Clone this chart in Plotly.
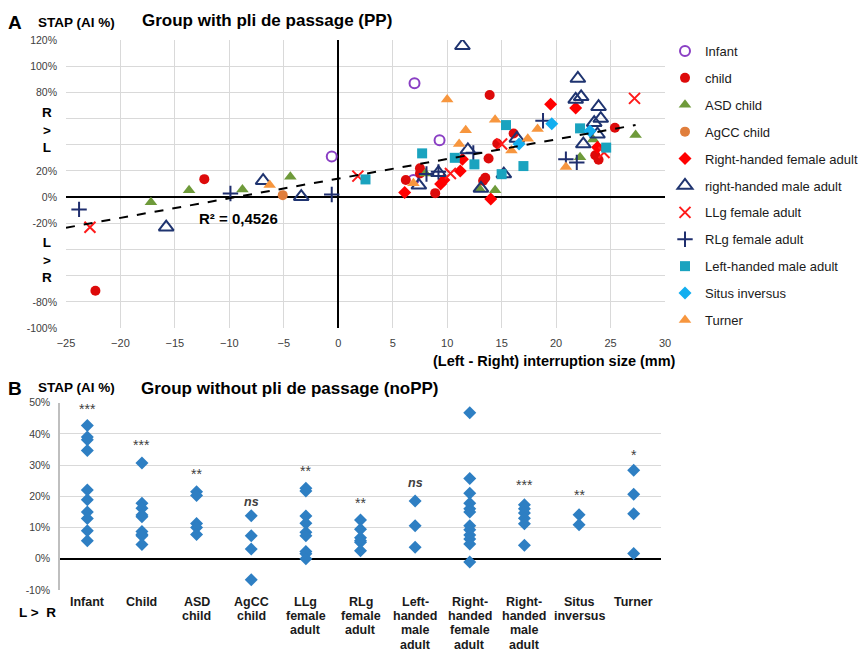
import plotly.graph_objects as go

FONT = "Arial, Liberation Sans, sans-serif"

# ---------------- Panel A data (x: interruption size mm, y: STAP AI %) ----------------
infant_x = [-0.6, 7.0, 9.3, 6.9]
infant_y = [31, 87, 43.5, 13]

child_x = [-22.3, -12.3, 6.2, 7.5, 7.5, 8.9, 13.3, 13.5, 13.8, 13.9, 14.6, 16.1, 23.6, 23.9, 25.4]
child_y = [-71.6, 13.7, 13, 22, 18, 3, 12.5, 14.8, 29.5, 78, 41, 48.6, 32, 28.5, 53]

asd_x = [-17.2, -13.7, -8.8, -4.4, 8.0, 13.0, 14.4, 22.2, 23.4, 27.3]
asd_y = [-4, 5.3, 5.8, 15.5, 18, 6, 5.3, 30.5, 44, 47.5]

agcc_x = [-5.1]
agcc_y = [1.5]

rhf_x = [6.1, 9.4, 9.7, 11.2, 11.4, 14.0, 19.5, 21.8, 23.8]
rhf_y = [3.5, 10, 13, 20, 29, -1.5, 71, 68, 38]

rhm_x = [-15.8, -6.9, -3.4, 7.4, 9.2, 11.4, 11.9, 13.1, 15.2, 16.4, 21.8, 22.0, 22.3, 22.5, 23.5, 23.8, 23.9, 24.1]
rhm_y = [-23, 12.5, 0.3, 9, 18.6, 115.6, 36, 6.6, 17.6, 44.8, 74.6, 90.6, 76.6, 40.5, 56.8, 48, 69, 60]

llg_x = [-22.8, 1.8, 10.3, 15.0, 24.4, 27.2]
llg_y = [-23, 16, 18, 40.5, 34, 75.4]

rlg_x = [-23.8, -9.9, -0.6, 8.1, 9.2, 12.4, 18.8, 20.9, 21.9]
rlg_y = [-9.4, 2.8, 2, 17.6, 19.3, 33.8, 58.3, 29, 26.5]

lhm_x = [2.5, 7.7, 10.7, 12.5, 15.0, 15.4, 17.0, 22.2, 24.6]
lhm_y = [13.5, 33.4, 30, 25, 17.5, 55, 23.7, 52.5, 37.8]

situs_x = [16.6, 19.6, 23.1]
situs_y = [40.5, 56, 50.5]

turner_x = [-6.3, 6.9, 10.0, 11.1, 11.7, 14.4, 15.9, 17.4, 18.3, 20.9]
turner_y = [9.2, 10.5, 74.6, 40.5, 51, 59, 35.5, 44.5, 52, 23]

trend_slope = 1.50
trend_intercept = 14.1
trend_x_range = [-25, 27.3]
r_squared_label = "R² = 0,4526"

x_ticks_A = [-25, -20, -15, -10, -5, 0, 5, 10, 15, 20, 25, 30]
y_ticks_A = [-100, -80, -60, -40, -20, 0, 20, 40, 60, 80, 100, 120]
y_ticktext_A = ["-100%", "-80%", "", "", "-20%", "0%", "20%", "", "", "80%", "100%", "120%"]

# ---------------- Panel B data (noPP group) ----------------
categories_B = ["Infant", "Child", "ASD<br>child", "AgCC<br>child", "LLg<br>female<br>adult",
                "RLg<br>female<br>adult", "Left-<br>handed<br>male<br>adult",
                "Right-<br>handed<br>female<br>adult", "Right-<br>handed<br>male<br>adult",
                "Situs<br>inversus", "Turner"]
infant_noPP = [42.7, 39.0, 38.1, 34.7, 22.0, 18.9, 15.0, 12.9, 9.0, 5.8]
child_noPP = [30.7, 17.8, 16.2, 14.0, 13.5, 8.7, 7.8, 7.4, 4.6]
asd_noPP = [21.5, 20.3, 11.3, 10.0, 7.8]
agcc_noPP = [13.8, 7.4, 3.1, -6.7]
llg_noPP = [22.6, 21.7, 13.7, 11.4, 8.5, 7.4, 2.3, 1.6, 0.0]
rlg_noPP = [12.4, 9.5, 6.7, 5.8, 5.3, 2.6]
lhm_noPP = [18.5, 10.6, 3.7]
rhf_noPP = [46.8, 25.7, 21.0, 17.8, 16.0, 15.0, 10.6, 9.3, 7.6, 6.3, 4.7, -1.0]
rhm_noPP = [17.3, 16.0, 14.7, 13.0, 11.2, 4.3]
situs_noPP = [14.1, 10.9]
turner_noPP = [28.4, 20.7, 14.4, 1.7]
significance = ["***", "***", "**", "ns", "**", "**", "ns", "***", "***", "**", "*"]
significance_y = [48.7, 37.1, 27.8, 17.5, 28.8, 18.5, 23.5, 51.7, 24.4, 21.2, 33.9]
y_ticks_B = [-10, 0, 10, 20, 30, 40, 50]

groups_B = [infant_noPP, child_noPP, asd_noPP, agcc_noPP, llg_noPP, rlg_noPP, lhm_noPP,
            rhf_noPP, rhm_noPP, situs_noPP, turner_noPP]

W, H = 866, 651
fig = go.Figure()

series_A = [
    ("Infant", infant_x, infant_y, dict(symbol="circle-open", color="#8A3FC4", size=10, line=dict(width=2, color="#8A3FC4"))),
    ("child", child_x, child_y, dict(symbol="circle", color="#DD0A0A", size=10)),
    ("ASD child", asd_x, asd_y, dict(symbol="triangle-up", color="#6E9A3A", size=11)),
    ("AgCC child", agcc_x, agcc_y, dict(symbol="circle", color="#E07E3C", size=10)),
    ("Right-handed female adult", rhf_x, rhf_y, dict(symbol="diamond", color="#FF0000", size=10)),
    ("right-handed male adult", rhm_x, rhm_y, dict(symbol="triangle-up-open", color="#1F3470", size=13, line=dict(width=2, color="#1F3470"))),
    ("LLg female adult", llg_x, llg_y, dict(symbol="x-thin-open", color="#FF1A1A", size=11, line=dict(width=2, color="#FF1A1A"))),
    ("RLg female adult", rlg_x, rlg_y, dict(symbol="cross-thin-open", color="#1F2E6E", size=11, line=dict(width=2, color="#1F2E6E"))),
    ("Left-handed male adult", lhm_x, lhm_y, dict(symbol="square", color="#1AA3BF", size=10)),
    ("Situs inversus", situs_x, situs_y, dict(symbol="diamond", color="#12AEEF", size=10)),
    ("Turner", turner_x, turner_y, dict(symbol="triangle-up", color="#F7963E", size=11)),
]

for name, xs, ys, mk in series_A:
    fig.add_trace(go.Scatter(x=xs, y=ys, mode="markers", name=name, marker=mk,
                             legendgroup=name, xaxis="x", yaxis="y"))

trend_y = [trend_slope * v + trend_intercept for v in trend_x_range]
fig.add_trace(go.Scatter(x=trend_x_range, y=trend_y, mode="lines", showlegend=False,
                         line=dict(color="black", width=2, dash="dash"), xaxis="x", yaxis="y"))

# Panel B scatter
bx, by = [], []
for i, vals in enumerate(groups_B):
    bx += [i] * len(vals)
    by += vals
fig.add_trace(go.Scatter(x=bx, y=by, mode="markers", showlegend=False,
                         marker=dict(symbol="diamond", color="#2E7FC3", size=10),
                         xaxis="x2", yaxis="y2"))

ann = []
def pa(text, x, y, size, bold=True, xanchor="center", color="black"):
    t = "<b>" + text + "</b>" if bold else text
    ann.append(dict(text=t, x=x / W, y=1 - y / H, xref="paper", yref="paper",
                    showarrow=False, xanchor=xanchor, yanchor="middle",
                    font=dict(family=FONT, size=size, color=color)))

pa("A", 15, 22, 19)
pa("STAP (AI %)", 76, 22, 13.5)
pa("Group with pli de passage (PP)", 267, 20, 17)
pa("R<br>><br>L", 47, 130, 13.5)
pa("L<br>><br>R", 47, 260, 13.5)
pa("(Left - Right) interruption size (mm)", 554, 361, 14.5)
pa("B", 15, 388, 19)
pa("STAP (AI %)", 76, 387, 13.5)
pa("Group without pli de passage (noPP)", 290, 388, 17)
pa("L >  R", 37, 612, 13.5)

ann.append(dict(text="<b>" + r_squared_label + "</b>", x=-9.2, y=-16, xref="x", yref="y",
                showarrow=False, font=dict(family=FONT, size=15, color="black")))

# Significance markers above each group
for i, (s, yv) in enumerate(zip(significance, significance_y)):
    if s == "ns":
        txt, size, shift = "<b><i>ns</i></b>", 12.5, 2
    else:
        txt, size, shift = s, 14, -2
    ann.append(dict(text=txt, x=i, y=yv, xref="x2", yref="y2", showarrow=False,
                    yshift=shift, font=dict(family=FONT, size=size, color="#404040")))

# Category labels for panel B (one annotation per text line, Excel-like tight spacing)
for i, cat in enumerate(categories_B):
    for k, line in enumerate(cat.split("<br>")):
        ann.append(dict(text="<b>" + line + "</b>", x=i, xref="x2",
                        y=1 - (602 + k * 14.2) / H, yref="paper", showarrow=False,
                        yanchor="middle", font=dict(family=FONT, size=12.5, color="#1a1a1a")))

fig.update_layout(
    width=W, height=H,
    margin=dict(l=0, r=0, t=0, b=0, autoexpand=False),
    paper_bgcolor="white", plot_bgcolor="white",
    font=dict(family=FONT, color="#404040"),
    annotations=ann,
    legend=dict(x=665 / W, y=1 - 36 / H, xanchor="left", yanchor="top",
                font=dict(family=FONT, size=13, color="#1a1a1a"),
                tracegroupgap=7, itemwidth=30, bgcolor="rgba(0,0,0,0)"),
    xaxis=dict(domain=[66 / W, 665 / W], range=[-25, 30], tickvals=x_ticks_A,
               showgrid=True, gridcolor="#D9D9D9", gridwidth=1,
               zeroline=True, zerolinecolor="black", zerolinewidth=2,
               showline=False, ticks="", tickfont=dict(size=11, color="#404040"),
               ticklabelstandoff=7, automargin=False, anchor="y"),
    yaxis=dict(domain=[1 - 328 / H, 1 - 40 / H], range=[-100, 120], tickvals=y_ticks_A,
               ticktext=y_ticktext_A, showgrid=True, gridcolor="#D9D9D9", gridwidth=1,
               zeroline=True, zerolinecolor="black", zerolinewidth=2,
               showline=False, ticks="", tickfont=dict(size=10.5, color="#404040"),
               ticklabelstandoff=8, automargin=False, anchor="x"),
    xaxis2=dict(domain=[60 / W, 661 / W], range=[-0.5, 10.5],
                tickvals=list(range(len(categories_B))), showticklabels=False,
                showgrid=False, zeroline=False, showline=False, ticks="",
                automargin=False, anchor="y2"),
    yaxis2=dict(domain=[1 - 590 / H, 1 - 402.7 / H], range=[-10, 50], tickvals=y_ticks_B,
                ticktext=[f"{v}%" for v in y_ticks_B],
                showgrid=True, gridcolor="#D9D9D9", gridwidth=1,
                zeroline=True, zerolinecolor="black", zerolinewidth=2,
                showline=True, linecolor="#BFBFBF", linewidth=1.5, ticks="",
                tickfont=dict(size=10.5, color="#404040"),
                ticklabelstandoff=6, automargin=False, anchor="x2"),
)

fig.write_html("out.html", config={"displayModeBar": False},
               post_script="document.body.style.margin='0';document.body.style.padding='0';")
